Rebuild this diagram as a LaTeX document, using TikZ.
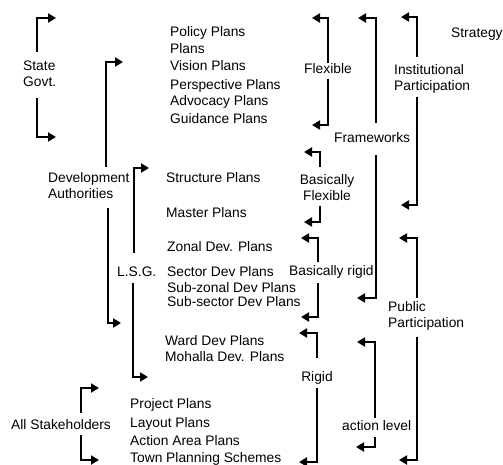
\documentclass[tikz,border=0pt]{standalone}
\usepackage{fontspec}
\setmainfont{Liberation Sans}
\usetikzlibrary{arrows.meta}
\begin{document}
\begin{tikzpicture}[x=1pt,y=-1pt,
    every node/.style={inner sep=0pt, font=\fontsize{13.8}{16}\selectfont},
    plan/.style={anchor=base west},
    lbl/.style={anchor=base},
    brk/.style={line width=2.1pt, -{Triangle[length=8pt,width=9pt]}}]
\useasboundingbox (0,0) rectangle (503,465);

% the plans
\node[plan] (policy) at (170,37) {Policy Plans};
\node[plan] (plans) at (170,54) {Plans};
\node[plan] (vision) at (170,71) {Vision Plans};
\node[plan] (persp) at (170,90) {Perspective Plans};
\node[plan] (advoc) at (170,106) {Advocacy Plans};
\node[plan] (guide) at (170,124) {Guidance Plans};
\node[plan] (struct) at (166,183) {Structure Plans};
\node[plan] (master) at (166,218) {Master Plans};
\node[plan] (zonal) at (167,251) {Zonal Dev. Plans};
\node[plan] (sector) at (167,276) {Sector Dev Plans};
\node[plan] (subzonal) at (167,292) {Sub-zonal Dev Plans};
\node[plan] (subsector) at (167,306) {Sub-sector Dev Plans};
\node[plan] (ward) at (165,345) {Ward Dev Plans};
\node[plan] (mohalla) at (165,361) {Mohalla Dev. Plans};
\node[plan] (project) at (130,408) {Project Plans};
\node[plan] (layout) at (130,427) {Layout Plans};
\node[plan] (action) at (130,445) {Action Area Plans};
\node[plan] (town) at (130,462) {Town Planning Schemes};
\node[plan] (strat) at (451,38) {Strategy};

% who makes them
\node[anchor=north west, align=left] (sg) at (23,61) {State\\Govt.};
\node[anchor=north west, align=left] (da) at (48,172) {Development\\Authorities};
\node[plan] (lsg) at (117,276) {L.S.G.};
\node[plan] (as) at (11,429) {All Stakeholders};

% how rigid they are
\node[lbl] (fl) at (328,74) {Flexible};
\node[anchor=north, align=center] (bf) at (327,174) {Basically\\Flexible};
\node[plan] (br) at (289,275) {Basically rigid};
\node[lbl] (rg) at (317,381) {Rigid};
\node[plan] (fw) at (334,143) {Frameworks};
\node[anchor=north west, align=left] (ip) at (394,64) {Institutional\\Participation};
\node[anchor=north west, align=left] (pp) at (388,301) {Public\\Participation};
\node[plan] (al) at (342,430) {action level};

% arrow tips
\coordinate (sgT) at (56,18);   \coordinate (sgB) at (56,137);
\coordinate (daT) at (123,62);  \coordinate (daB) at (121,323);
\coordinate (lsgT) at (149,168); \coordinate (lsgB) at (148,377);
\coordinate (asT) at (99,388);  \coordinate (asB) at (99,460);
\coordinate (flT) at (312,18);  \coordinate (flB) at (312,125);
\coordinate (bfT) at (304,152); \coordinate (bfB) at (304,222);
\coordinate (brT) at (301,238); \coordinate (brB) at (301,317);
\coordinate (rgT) at (299,333); \coordinate (rgB) at (299,462);
\coordinate (fwT) at (358,18);  \coordinate (fwB) at (357,298);
\coordinate (ipT) at (401,17);  \coordinate (ipB) at (401,205);
\coordinate (ppT) at (399,238); \coordinate (ppB) at (399,460);
\coordinate (alT) at (357,342); \coordinate (alB) at (356,447);

% brackets on the left
\draw[brk, shorten <=9pt] ([xshift=-2.5pt]sg.north) |- (sgT);
\draw[brk, shorten <=11pt] ([xshift=-2.5pt]sg.south) |- (sgB);
\draw[brk, shorten <=5pt] ([xshift=17.4pt]da.north) |- (daT);
\draw[brk, shorten <=9pt] ([xshift=19.4pt]da.south) |- (daB);
\draw[brk, shorten <=13pt] ([xshift=-2.5pt]lsg.north) |- (lsgT);
\draw[brk, shorten <=7pt] ([xshift=-3.5pt]lsg.south) |- (lsgB);
\draw[brk, shorten <=6pt] ([xshift=20pt]as.north) |- (asT);
\draw[brk, shorten <=6pt] ([xshift=20pt]as.south) |- (asB);

% brackets on the right
\draw[brk, shorten <=1pt] (fl.north) |- (flT);
\draw[brk, shorten <=5pt] (fl.south) |- (flB);
\draw[brk, shorten <=7pt] ([xshift=-7pt]bf.north) |- (bfT);
\draw[brk, shorten <=5pt] ([xshift=-7pt]bf.south) |- (bfB);
\draw[brk, shorten <=3pt] ([xshift=-13pt]br.north) |- (brT);
\draw[brk, shorten <=5pt] ([xshift=-13pt]br.south) |- (brB);
\draw[brk, shorten <=13pt] (rg.north) |- (rgT);
\draw[brk, shorten <=4pt] (rg.south) |- (rgB);
\draw[brk, shorten <=10pt] ([xshift=4pt]fw.north) |- (fwT);
\draw[brk, shorten <=12pt] ([xshift=4pt]fw.south) |- (fwB);
\draw[brk, shorten <=7pt] ([xshift=-15pt]ip.north) |- (ipT);
\draw[brk, shorten <=4pt] ([xshift=-15pt]ip.south) |- (ipB);
\draw[brk, shorten <=3pt] ([xshift=-9pt]pp.north) |- (ppT);
\draw[brk, shorten <=7pt] ([xshift=-9pt]pp.south) |- (ppB);
\draw[brk, shorten <=2pt] ([xshift=-2pt]al.north) |- (alT);
\draw[brk, shorten <=7pt] ([xshift=-2pt]al.south) |- (alB);
\end{tikzpicture}
\end{document}
